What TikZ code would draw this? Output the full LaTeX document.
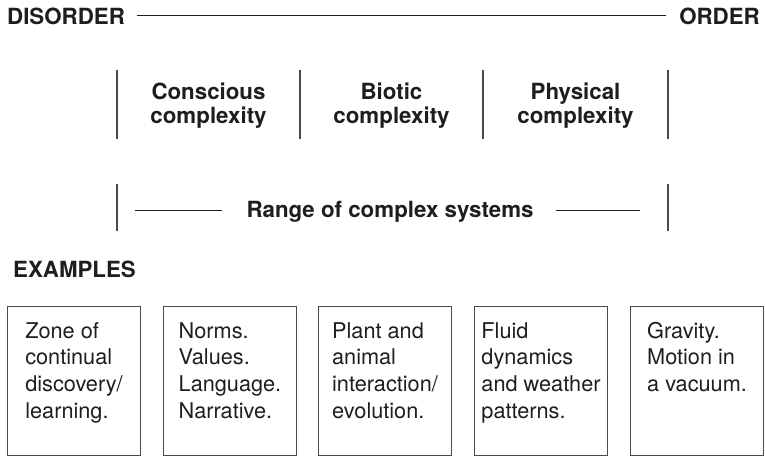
\documentclass[tikz,border=0pt]{standalone}
\usepackage{fontspec}
\setmainfont{TeX Gyre Heros}
\definecolor{ink}{HTML}{1E1E1E}
\definecolor{rulegray}{HTML}{4A4A4A}
\tikzset{
  boldlabel/.style={font=\fontsize{22.3}{24}\selectfont\bfseries, text=ink, inner sep=0pt},
  heading/.style={boldlabel, align=center},
  bodytext/.style={font=\fontsize{21.7}{26.7}\selectfont, text=ink, inner sep=0pt, align=left},
  examplebox/.style={draw=rulegray, line width=1pt, minimum width=133pt, minimum height=149pt,
                     anchor=north west, inner sep=0pt},
  divider/.style={draw=rulegray, line width=1.6pt},
  scaleline/.style={draw=ink, line width=1pt},
}
\begin{document}
\begin{tikzpicture}[x=1pt,y=-1pt]
\useasboundingbox (0,0) rectangle (765,456);

% disorder -- order scale
\node[boldlabel, anchor=base west] (dis) at (7,24) {DISORDER};
\node[boldlabel, anchor=base east] (ord) at (760,24) {ORDER};
\draw[scaleline, shorten <=12pt, shorten >=13pt] (dis.east) -- (ord.west);

% kinds of complexity, separated by vertical dividers
% (the base anchor of a two-line node sits on its last line)
\foreach \x in {117,300,483,668}
  \draw[divider] (\x,70) -- (\x,139);
\node[heading, anchor=base] (conscious) at (208.5,123) {Conscious\\complexity};
\node[heading, anchor=base] (biotic) at (391.5,123) {Biotic\\complexity};
\node[heading, anchor=base] (physical) at (575.5,123) {Physical\\complexity};

% range of complex systems
\draw[divider] (117,184) -- (117,231);
\draw[divider] (668,184) -- (668,231);
\coordinate (rangeL) at (117,210);
\coordinate (rangeR) at (668,210);
\node[boldlabel, anchor=base] (range) at (390,217) {Range of complex systems};
\draw[scaleline, shorten <=18pt, shorten >=24pt] (rangeL) -- (rangeL -| range.west);
\draw[scaleline, shorten <=28pt, shorten >=22pt] (rangeR) -- (rangeR -| range.east);

% examples
\node[boldlabel, anchor=base west] (examples) at (13,277) {EXAMPLES};

\node[examplebox] (box1) at (7,306) {};
\node[examplebox] (box2) at (163,306) {};
\node[examplebox] (box3) at (318,306) {};
\node[examplebox] (box4) at (474,306) {};
\node[examplebox] (box5) at (630,306) {};

% first lines sit at y=338; the base anchor is on the last line
\node[bodytext, anchor=base] (ex1) at (box1.north |- 0,418.1) {Zone of\\continual\\discovery/\\learning.};
\node[bodytext, anchor=base] (ex2) at (box2.north |- 0,418.1) {Norms.\\Values.\\Language.\\Narrative.};
\node[bodytext, anchor=base] (ex3) at (box3.north |- 0,418.1) {Plant and\\animal\\interaction/\\evolution.};
\node[bodytext, anchor=base] (ex4) at (box4.north |- 0,418.1) {Fluid\\dynamics\\and weather\\patterns.};
\node[bodytext, anchor=base] (ex5) at (box5.north |- 0,391.4) {Gravity.\\Motion in\\a vacuum.};
\end{tikzpicture}
\end{document}
